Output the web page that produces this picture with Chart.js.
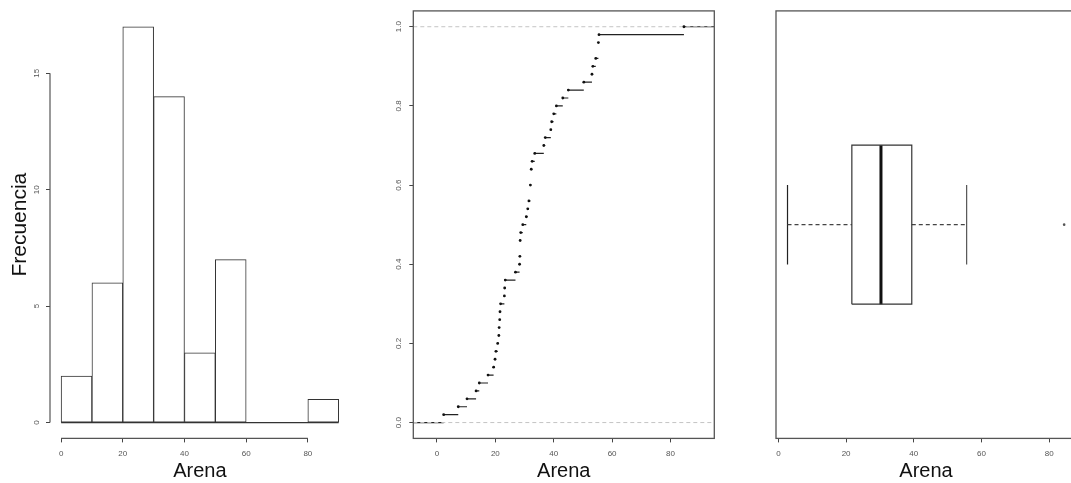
<!DOCTYPE html>
<html><head><meta charset="utf-8">
<script src="https://cdn.jsdelivr.net/npm/chart.js@4.4.1/dist/chart.umd.min.js"></script>
<style>
html,body{margin:0;padding:0;background:#fff;overflow:hidden;width:1071px;height:483px;}
canvas{position:absolute;top:0;}
</style></head><body>
<canvas id="hist" width="360" height="483" style="left:0px"></canvas>
<canvas id="ecdf" width="360" height="483" style="left:360px"></canvas>
<canvas id="box" width="360" height="483" style="left:720px"></canvas>
<script>
// ---- data ----
const binEdges = [0, 10, 20, 30, 40, 50, 60, 70, 80, 90];
const histCounts = [2, 6, 17, 14, 3, 7, 0, 0, 1];
const histYTicks = [0, 5, 10, 15];
const arenaXTicks = [0, 20, 40, 60, 80];
const arenaSorted = [2.3, 7.3, 10.3, 13.4, 14.5, 17.5, 19.4, 19.9, 20.2, 20.8,
  21.2, 21.3, 21.5, 21.6, 21.8, 23.1, 23.2, 23.4, 26.9, 28.3,
  28.4, 28.5, 28.5, 28.7, 29.4, 30.6, 31.1, 31.5, 32.0, 32.0,
  32.3, 32.3, 32.6, 33.5, 36.6, 37.1, 39.0, 39.3, 40.0, 40.9,
  43.1, 45.0, 50.3, 53.1, 53.4, 54.4, 55.3, 55.3, 55.5, 84.6];
const ecdfYTicks = [0, 0.2, 0.4, 0.6, 0.8, 1.0];
const boxStats = [2.7, 21.7, 30.3, 39.4, 55.6]; // lower whisker, Q1, median, Q3, upper whisker
const boxOutliers = [84.4];
const xLabel = 'Arena';
const yLabelHist = 'Frecuencia';

// ---- style ----
const FAM = "'Liberation Sans', Arial, sans-serif";
const INK = '#333';
const TICKC = '#555';
const AXIS_H = 44.6;

function makeRAxes(cfg) {
  return {
    id: 'rAxes',
    afterDraw(chart) {
      const ctx = chart.ctx, ca = chart.chartArea;
      const xs = chart.scales.x, ys = chart.scales.y;
      ctx.save();
      ctx.strokeStyle = cfg.lineColor || '#555';
      ctx.lineWidth = cfg.lineWidth || 1.2;
      if (cfg.frame) {
        ctx.strokeRect(ca.left, ca.top, ca.right - ca.left, ca.bottom - ca.top);
      }
      if (cfg.xLine) {
        ctx.beginPath();
        ctx.moveTo(xs.getPixelForValue(cfg.xFrom), ca.bottom);
        ctx.lineTo(xs.getPixelForValue(cfg.xTo), ca.bottom);
        ctx.stroke();
      }
      if (cfg.yLine) {
        ctx.beginPath();
        ctx.moveTo(ca.left, ys.getPixelForValue(cfg.yFrom));
        ctx.lineTo(ca.left, ys.getPixelForValue(cfg.yTo));
        ctx.stroke();
      }
      if (cfg.yLabels) {
        ctx.fillStyle = TICKC;
        ctx.font = '8px ' + FAM;
        ctx.textAlign = 'center';
        ctx.textBaseline = 'middle';
        ys.ticks.forEach(t => {
          const py = ys.getPixelForValue(t.value);
          ctx.save();
          ctx.translate(ca.left - cfg.yLabelOffset, py);
          ctx.rotate(-Math.PI / 2);
          ctx.fillText(t.value.toFixed(cfg.yDecimals), 0, 0);
          ctx.restore();
        });
      }
      ctx.restore();
    }
  };
}

function xScale(min, max) {
  return {
    type: 'linear', position: 'bottom', min: min, max: max, offset: false,
    afterBuildTicks: s => { s.ticks = arenaXTicks.map(v => ({ value: v })); },
    afterFit: s => { s.height = AXIS_H; },
    grid: { offset: false, drawOnChartArea: false, drawTicks: true, tickLength: 4, tickColor: '#444', tickWidth: 1 },
    border: { display: false },
    ticks: { font: { size: 8, family: FAM }, color: TICKC, padding: 7, maxRotation: 0, minRotation: 0, autoSkip: false },
    title: { display: true, text: xLabel, font: { size: 20, family: FAM }, color: '#111', padding: { top: 0, bottom: 0 } }
  };
}

const common = {
  responsive: false, animation: false, devicePixelRatio: 1, events: [],
  plugins: { legend: { display: false }, tooltip: { enabled: false } }
};

// ---- histogram ----
const binCenters = histCounts.map((c, i) => (binEdges[i] + binEdges[i + 1]) / 2);
new Chart(document.getElementById('hist'), {
  type: 'bar',
  data: {
    datasets: [
      {
        type: 'bar', order: 1,
        data: histCounts.map((c, i) => ({ x: binCenters[i], y: c })),
        backgroundColor: '#fff', borderColor: INK, borderWidth: 1,
        borderSkipped: false, barPercentage: 1, categoryPercentage: 1
      },
      {
        type: 'line', order: 2,
        data: [{ x: binEdges[0], y: 0 }, { x: binEdges[binEdges.length - 1], y: 0 }],
        borderColor: INK, borderWidth: 1.2, pointRadius: 0, fill: false
      }
    ]
  },
  options: Object.assign({}, common, {
    layout: { padding: { left: 0, top: 10.9, right: 10.2, bottom: 0 } },
    scales: {
      x: xScale(-3.6, 93.6),
      y: {
        type: 'linear', min: -0.68, max: 17.68,
        afterBuildTicks: s => { s.ticks = histYTicks.map(v => ({ value: v })); },
        afterFit: s => { s.width = 50; },
        grid: { drawOnChartArea: false, drawTicks: true, tickLength: 4, tickColor: '#444' },
        border: { display: false },
        ticks: { display: false },
        title: { display: true, text: yLabelHist, font: { size: 21, family: FAM }, color: '#111', padding: { top: 8, bottom: 0 } }
      }
    }
  }),
  plugins: [makeRAxes({ xLine: true, xFrom: 0, xTo: 80, yLine: true, yFrom: 0, yTo: 15, yLabels: true, yLabelOffset: 13.5, yDecimals: 0, lineColor: '#555' })]
});

// ---- ECDF ----
const ECDF_XMIN = -8.1, ECDF_XMAX = 95.0;
const nObs = arenaSorted.length;
const ecdfKnots = [], ecdfLevels = [];
arenaSorted.forEach((v, i) => {
  if (ecdfKnots.length && ecdfKnots[ecdfKnots.length - 1] === v) {
    ecdfLevels[ecdfLevels.length - 1] = (i + 1) / nObs;
  } else {
    ecdfKnots.push(v); ecdfLevels.push((i + 1) / nObs);
  }
});
const stepSegs = [{ x: ECDF_XMIN, y: 0 }, { x: ecdfKnots[0], y: 0 }, { x: ecdfKnots[0], y: null }];
ecdfKnots.forEach((k, j) => {
  const next = j + 1 < ecdfKnots.length ? ecdfKnots[j + 1] : ECDF_XMAX;
  stepSegs.push({ x: k, y: ecdfLevels[j] }, { x: next, y: ecdfLevels[j] }, { x: next, y: null });
});
new Chart(document.getElementById('ecdf'), {
  type: 'scatter',
  data: {
    datasets: [
      {
        order: 0, data: ecdfKnots.map((k, j) => ({ x: k, y: ecdfLevels[j] })),
        pointRadius: 1.4, pointBackgroundColor: '#111', pointBorderWidth: 0, showLine: false
      },
      {
        order: 1, showLine: true, pointRadius: 0,
        data: [{ x: ECDF_XMIN, y: 0 }, { x: ECDF_XMAX, y: 0 }, { x: ECDF_XMAX, y: null }, { x: ECDF_XMIN, y: 1 }, { x: ECDF_XMAX, y: 1 }],
        borderColor: '#c4c4c4', borderWidth: 1, borderDash: [4, 3]
      },
      {
        order: 2, showLine: true, pointRadius: 0, data: stepSegs,
        borderColor: '#222', borderWidth: 1.2, spanGaps: false
      }
    ]
  },
  options: Object.assign({}, common, {
    layout: { padding: { left: 0, top: 10.9, right: 5.7, bottom: 0 } },
    scales: {
      x: xScale(ECDF_XMIN, ECDF_XMAX),
      y: {
        type: 'linear', min: -0.04, max: 1.04,
        afterBuildTicks: s => { s.ticks = ecdfYTicks.map(v => ({ value: v })); },
        afterFit: s => { s.width = 53.3; },
        grid: { drawOnChartArea: false, drawTicks: true, tickLength: 4, tickColor: '#444' },
        border: { display: false },
        ticks: { display: false }
      }
    }
  }),
  plugins: [makeRAxes({ frame: true, yLabels: true, yLabelOffset: 14.3, yDecimals: 1, lineColor: '#555', lineWidth: 1.3 })]
});

// ---- boxplot ----
const BOX_HALF = 0.186, STAPLE_HALF = 0.093, BOX_Y = 1;
const [wLo, q1, med, q3, wHi] = boxStats;
const lineDs = (data, opts) => Object.assign({ showLine: true, pointRadius: 0, data: data, borderColor: INK, borderWidth: 1.2 }, opts || {});
new Chart(document.getElementById('box'), {
  type: 'scatter',
  data: {
    datasets: [
      lineDs([{ x: q1, y: BOX_Y - BOX_HALF }, { x: q3, y: BOX_Y - BOX_HALF }, { x: q3, y: BOX_Y + BOX_HALF }, { x: q1, y: BOX_Y + BOX_HALF }, { x: q1, y: BOX_Y - BOX_HALF }]),
      lineDs([{ x: med, y: BOX_Y - BOX_HALF }, { x: med, y: BOX_Y + BOX_HALF }], { borderColor: '#111', borderWidth: 3 }),
      lineDs([{ x: wLo, y: BOX_Y }, { x: q1, y: BOX_Y }], { borderDash: [4, 3], borderColor: '#444' }),
      lineDs([{ x: q3, y: BOX_Y }, { x: wHi, y: BOX_Y }], { borderDash: [4, 3], borderColor: '#444' }),
      lineDs([{ x: wLo, y: BOX_Y - STAPLE_HALF }, { x: wLo, y: BOX_Y + STAPLE_HALF }], { borderColor: '#222' }),
      lineDs([{ x: wHi, y: BOX_Y - STAPLE_HALF }, { x: wHi, y: BOX_Y + STAPLE_HALF }], { borderColor: '#555' }),
      { showLine: false, data: boxOutliers.map(v => ({ x: v, y: BOX_Y })), pointRadius: 1.3, pointBackgroundColor: '#555', pointBorderWidth: 0 }
    ]
  },
  options: Object.assign({}, common, {
    layout: { padding: { left: 56, top: 10.9, right: 2, bottom: 0 } },
    scales: {
      x: xScale(-0.7, 87.9),
      y: { type: 'linear', min: 0.5, max: 1.5, display: false }
    }
  }),
  plugins: [makeRAxes({ frame: true, lineColor: '#555', lineWidth: 1.3 })]
});
</script>
</body></html>
